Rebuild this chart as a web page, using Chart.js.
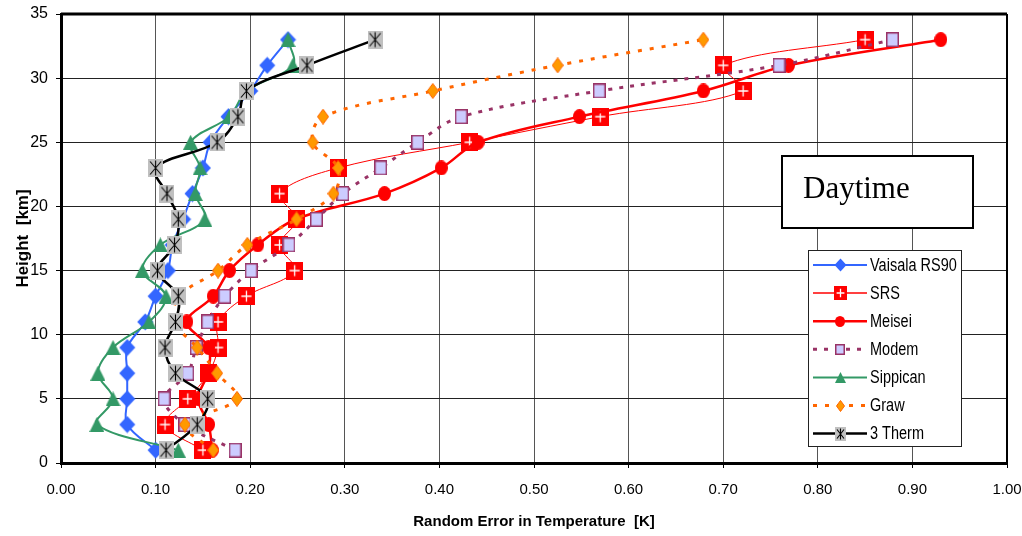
<!DOCTYPE html>
<html>
<head>
<meta charset="utf-8">
<script src="https://cdn.jsdelivr.net/npm/chart.js@4.4.1/dist/chart.umd.min.js"></script>
<style>
  html, body { margin: 0; padding: 0; background: #fff; }
  #wrap { width: 1022px; height: 536px; position: relative; }
</style>
</head>
<body>
<div id="wrap"><canvas id="chart" width="1022" height="536"></canvas></div>
<script>
// heights of the profile points [km]
const heights = [1, 3, 5, 7, 9, 11, 13, 15, 17, 19, 21, 23, 25, 27, 29, 31, 33];

// random error in temperature [K], one value per height
const vaisala  = [0.100, 0.070, 0.070, 0.070, 0.070, 0.089, 0.100, 0.113, 0.118, 0.129, 0.139, 0.150, 0.158, 0.177, 0.200, 0.218, 0.240];
const srs      = [0.150, 0.110, 0.134, 0.156, 0.166, 0.166, 0.196, 0.247, 0.231, 0.249, 0.231, 0.293, 0.432, 0.570, 0.721, 0.700, 0.850];
const meisei   = [0.160, 0.156, 0.145, 0.155, 0.156, 0.133, 0.161, 0.178, 0.208, 0.248, 0.342, 0.402, 0.441, 0.548, 0.679, 0.769, 0.930];
const modem    = [0.184, 0.131, 0.109, 0.134, 0.143, 0.155, 0.173, 0.201, 0.241, 0.270, 0.298, 0.338, 0.377, 0.423, 0.569, 0.759, 0.879];
const sippican = [0.124, 0.038, 0.055, 0.039, 0.055, 0.093, 0.111, 0.086, 0.105, 0.152, 0.142, 0.147, 0.137, 0.178, 0.196, 0.245, 0.240];
const graw     = [0.161, 0.131, 0.186, 0.165, 0.144, 0.120, 0.125, 0.166, 0.197, 0.249, 0.288, 0.293, 0.266, 0.277, 0.393, 0.525, 0.679];
const therm3   = [0.111, 0.144, 0.155, 0.121, 0.110, 0.121, 0.124, 0.102, 0.120, 0.124, 0.112, 0.100, 0.165, 0.187, 0.196, 0.260, 0.332];

const seriesNames = ['Vaisala RS90', 'SRS', 'Meisei', 'Modem', 'Sippican', 'Graw', '3 Therm'];
const xTicks = [0, 0.1, 0.2, 0.3, 0.4, 0.5, 0.6, 0.7, 0.8, 0.9, 1.0];
const yTicks = [0, 5, 10, 15, 20, 25, 30, 35];

const SANS = '"Liberation Sans", Arial, sans-serif';

// marker images, drawn a bit taller than wide like in the original picture
function marker(kind, s) {
  const sizes = {
    diamond: [17, 18], srs: [17, 18], circle: [13, 15], modem: [13, 15],
    triangle: [15, 15], graw: [12, 16], therm: [15, 18]
  };
  const w = Math.round(sizes[kind][0] * s), h = Math.round(sizes[kind][1] * s);
  const c = document.createElement('canvas');
  c.width = w; c.height = h;
  const g = c.getContext('2d');
  if (kind === 'diamond' || kind === 'graw') {
    g.beginPath();
    g.moveTo(w / 2, 0.5); g.lineTo(w - 0.5, h / 2); g.lineTo(w / 2, h - 0.5); g.lineTo(0.5, h / 2);
    g.closePath();
    g.fillStyle = kind === 'diamond' ? '#3366FF' : '#FF9900';
    g.fill();
    if (kind === 'graw') { g.strokeStyle = '#FF6600'; g.lineWidth = 1; g.stroke(); }
  } else if (kind === 'srs') {
    g.fillStyle = '#FF0000';
    g.fillRect(0, 0, w, h);
    g.strokeStyle = '#FFFFFF'; g.lineWidth = 1.3;
    g.beginPath();
    g.moveTo(w * 0.2, h / 2); g.lineTo(w * 0.8, h / 2);
    g.moveTo(w / 2, h * 0.2); g.lineTo(w / 2, h * 0.8);
    g.stroke();
  } else if (kind === 'circle') {
    g.beginPath();
    g.ellipse(w / 2, h / 2, w / 2, h / 2, 0, 0, Math.PI * 2);
    g.fillStyle = '#FF0000'; g.fill();
  } else if (kind === 'modem') {
    g.fillStyle = '#CCCCFF';
    g.fillRect(0, 0, w, h);
    g.strokeStyle = '#993366'; g.lineWidth = 1.5;
    g.strokeRect(0.75, 0.75, w - 1.5, h - 1.5);
  } else if (kind === 'triangle') {
    g.beginPath();
    g.moveTo(w / 2, 0); g.lineTo(w, h); g.lineTo(0, h); g.closePath();
    g.fillStyle = '#339966'; g.fill();
  } else if (kind === 'therm') {
    g.fillStyle = '#C0C0C0';
    g.fillRect(0, 0, w, h);
    g.strokeStyle = '#000'; g.lineWidth = 1.1;
    g.beginPath();
    g.moveTo(w / 2, 1.5); g.lineTo(w / 2, h - 1.5);
    g.moveTo(2, 2.5); g.lineTo(w - 2, h - 2.5);
    g.moveTo(w - 2, 2.5); g.lineTo(2, h - 2.5);
    g.stroke();
  }
  return c;
}

const kinds = ['diamond', 'srs', 'circle', 'modem', 'triangle', 'graw', 'therm'];
const plotMarkers = kinds.map(k => marker(k, 1));
const legendMarkers = kinds.map(k => marker(k, 0.75));

function pts(vals) {
  return vals.map((v, i) => ({ x: v, y: heights[i] }));
}

const styles = [
  { color: '#3366FF', width: 2,   dash: [] },
  { color: '#FF0000', width: 1,   dash: [] },
  { color: '#FF0000', width: 2.5, dash: [] },
  { color: '#993366', width: 3,   dash: [4, 7] },
  { color: '#339966', width: 2,   dash: [] },
  { color: '#FF6600', width: 3,   dash: [4, 8] },
  { color: '#000000', width: 2.5, dash: [] }
];
const allValues = [vaisala, srs, meisei, modem, sippican, graw, therm3];

const datasets = allValues.map((vals, i) => ({
  label: seriesNames[i],
  data: pts(vals),
  showLine: true,
  borderColor: styles[i].color,
  borderWidth: styles[i].width,
  borderDash: styles[i].dash,
  backgroundColor: styles[i].color,
  tension: 0.35,
  pointStyle: plotMarkers[i],
  pointRadius: 6,
  pointHoverRadius: 6,
  order: allValues.length - i   // later series on top, as in the original
}));

// text stretched a little in height, the original picture is stretched that way
function tallText(ctx, text, x, y, size, stretch) {
  ctx.save();
  ctx.translate(x, y);
  ctx.scale(1, stretch);
  ctx.font = size + 'px ' + SANS;
  ctx.textBaseline = 'middle';
  ctx.fillText(text, 0, 0);
  ctx.restore();
}

// legend box and "Daytime" label inside the plot
const boxes = {
  id: 'boxes',
  afterDraw(chart) {
    const ctx = chart.ctx;
    ctx.save();
    // Daytime box
    ctx.fillStyle = '#fff';
    ctx.fillRect(782, 156, 191, 72);
    ctx.strokeStyle = '#000'; ctx.lineWidth = 2;
    ctx.strokeRect(782, 156, 191, 72);
    ctx.fillStyle = '#000';
    ctx.font = '31px "Liberation Serif", "Times New Roman", serif';
    ctx.textBaseline = 'alphabetic';
    ctx.fillText('Daytime', 803, 198);

    // legend
    ctx.fillStyle = '#fff';
    ctx.fillRect(808.5, 250.5, 153, 196);
    ctx.strokeStyle = '#222'; ctx.lineWidth = 1;
    ctx.strokeRect(808.5, 250.5, 153, 196);
    chart.data.datasets.forEach((ds, i) => {
      const y = 265 + i * 28.1;
      ctx.strokeStyle = ds.borderColor;
      ctx.lineWidth = ds.borderWidth < 1.5 ? 1.5 : ds.borderWidth;
      ctx.setLineDash(ds.borderDash);
      ctx.beginPath(); ctx.moveTo(813, y); ctx.lineTo(867, y); ctx.stroke();
      ctx.setLineDash([]);
      const m = legendMarkers[i];
      ctx.drawImage(m, Math.round(840 - m.width / 2), Math.round(y - m.height / 2));
      ctx.fillStyle = '#000';
      tallText(ctx, ds.label, 870, y + 1, 14.5, 1.22);
    });

    // top and right frame lines
    const a = chart.chartArea;
    ctx.strokeStyle = '#000';
    ctx.lineWidth = 3;
    ctx.beginPath(); ctx.moveTo(a.left, a.top); ctx.lineTo(a.right, a.top); ctx.stroke();
    ctx.lineWidth = 2;
    ctx.beginPath(); ctx.moveTo(a.right, a.top); ctx.lineTo(a.right, a.bottom); ctx.stroke();
    ctx.restore();
  }
};

new Chart(document.getElementById('chart'), {
  type: 'scatter',
  data: { datasets: datasets },
  options: {
    responsive: false,
    animation: false,
    events: [],
    layout: { padding: { top: 14, right: 15, left: 0, bottom: 0 } },
    plugins: {
      legend: { display: false },
      tooltip: { enabled: false }
    },
    scales: {
      x: {
        type: 'linear',
        min: 0, max: 1,
        afterFit(scale) { scale.height = 73; scale.paddingLeft = 0; scale.paddingRight = 0; },
        afterBuildTicks(scale) { scale.ticks = xTicks.map(v => ({ value: v })); },
        ticks: {
          color: '#000',
          padding: 13,
          maxRotation: 0,
          font: { family: SANS, size: 15 },
          callback: v => Number(v).toFixed(2)
        },
        grid: { color: '#555', lineWidth: 1, tickLength: 5, tickColor: '#000' },
        border: { color: '#000', width: 3 },
        title: {
          display: true,
          text: 'Random Error in Temperature  [K]',
          color: '#000',
          font: { family: SANS, size: 15, weight: 'bold' },
          padding: { top: 0, bottom: 5 }
        }
      },
      y: {
        type: 'linear',
        min: 0, max: 35,
        afterFit(scale) { scale.width = 61; scale.paddingTop = 0; scale.paddingBottom = 0; },
        afterBuildTicks(scale) { scale.ticks = yTicks.map(v => ({ value: v })); },
        ticks: {
          color: '#000',
          padding: 8,
          font: { family: SANS, size: 16 }
        },
        grid: { color: '#222', lineWidth: 1, tickLength: 5, tickColor: '#000' },
        border: { color: '#000', width: 3 },
        title: {
          display: true,
          text: 'Height  [km]',
          color: '#000',
          font: { family: SANS, size: 17, weight: 'bold' },
          padding: { top: 13, bottom: 0 }
        }
      }
    }
  },
  plugins: [boxes]
});
</script>
</body>
</html>
